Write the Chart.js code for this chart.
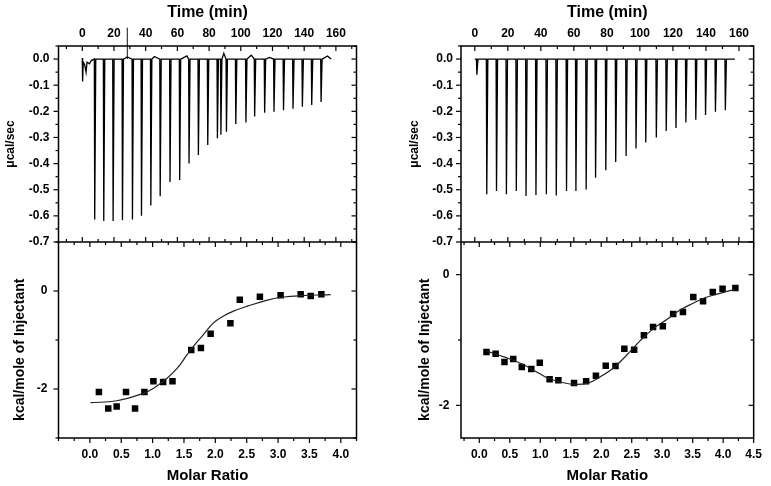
<!DOCTYPE html>
<html>
<head>
<meta charset="utf-8">
<script src="https://cdn.jsdelivr.net/npm/chart.js@4"></script>
<style>
  html, body { margin: 0; padding: 0; background: #fff; }
  #wrap { position: relative; width: 771px; height: 486px; }
  canvas { position: absolute; top: 0; }
  #leftChart { left: 0; }
  #rightChart { left: 400px; }
</style>
</head>
<body>
<div id="wrap">
  <canvas id="leftChart" width="400" height="486"></canvas>
  <canvas id="rightChart" width="371" height="486"></canvas>
</div>
<script>
// tick labels
const timeLabels = [0, 20, 40, 60, 80, 100, 120, 140, 160];
const rawLabels = [0, -0.1, -0.2, -0.3, -0.4, -0.5, -0.6, -0.7];
const leftRatioLabels = [0, 0.5, 1, 1.5, 2, 2.5, 3, 3.5, 4];
const rightRatioLabels = [0, 0.5, 1, 1.5, 2, 2.5, 3, 3.5, 4, 4.5];
const heatLabels = [0, -2];

// left: raw thermogram (injection time in min, peak in ucal/sec)
const leftInjTime = [7.6, 13.3, 19.2, 25.1, 31.4, 37.1, 43.0, 48.9, 55.1, 61.2, 67.1, 73.0, 78.9,
  85.0, 87.2, 90.7, 96.6, 103.0, 108.5, 114.8, 120.7, 126.7, 132.7, 138.6, 144.5, 150.4];
const leftInjPeak = [-0.614, -0.62, -0.62, -0.617, -0.614, -0.60, -0.56, -0.525, -0.47, -0.463, -0.40, -0.367, -0.329,
  -0.303, -0.29, -0.278, -0.248, -0.243, -0.22, -0.205, -0.202, -0.196, -0.19, -0.182, -0.176, -0.164];
const leftNoiseTime = [0, 0.2, 0.6, 1.5, 2.4, 3.0, 4.5, 5.8, 28.4, 45.5, 66.0, 89.3, 106.6, 118.0, 154.7, 157.0];
const leftNoiseVal = [0.004, -0.086, -0.012, -0.022, -0.05, -0.012, -0.018, -0.005, 0.008, 0.01, 0.012, 0.022, 0.015, 0.006, 0.012, 0];
const leftMarkerTime = [28.4, 28.4];
const leftMarkerVal = [0, 0.12];

// left: integrated heats (kcal/mole of injectant vs molar ratio)
const leftRatio = [0.144, 0.293, 0.427, 0.576, 0.72, 0.869, 1.013, 1.168, 1.317, 1.616, 1.77, 1.925,
  2.24, 2.39, 2.71, 3.04, 3.36, 3.52, 3.69];
const leftHeat = [-2.06, -2.40, -2.355, -2.06, -2.40, -2.06, -1.843, -1.857, -1.843, -1.205, -1.164, -0.87,
  -0.657, -0.178, -0.117, -0.089, -0.068, -0.103, -0.068];
const leftFitRatio = [0.01, 0.43, 0.85, 1.01, 1.23, 1.39, 1.55, 1.65, 1.81, 1.97, 2.13, 2.29, 2.51, 2.83, 3.09, 3.36, 3.84];
const leftFitHeat = [-2.28, -2.24, -2.09, -1.99, -1.78, -1.58, -1.30, -1.13, -0.89, -0.65, -0.51, -0.41, -0.31, -0.185, -0.123, -0.096, -0.075];

// right: raw thermogram
const rightInjTime = [1.0, 7.0, 12.9, 18.9, 24.9, 30.8, 36.8, 43.1, 49.1, 55.3, 61.0, 67.2, 72.9,
  79.1, 85.1, 91.4, 97.4, 103.3, 109.7, 115.7, 121.6, 127.6, 133.6, 139.5, 145.5, 151.5];
const rightInjPeak = [-0.06, -0.517, -0.505, -0.517, -0.505, -0.524, -0.52, -0.517, -0.522, -0.505, -0.505, -0.499, -0.454,
  -0.425, -0.394, -0.371, -0.342, -0.319, -0.30, -0.275, -0.264, -0.243, -0.232, -0.214, -0.202, -0.196];
const rightNoiseTime = [0, 157.5];
const rightNoiseVal = [0, 0];

// right: integrated heats
const rightRatio = [0.118, 0.268, 0.413, 0.557, 0.697, 0.853, 0.992, 1.153, 1.297, 1.554, 1.752, 1.913, 2.074,
  2.234, 2.379, 2.54, 2.70, 2.85, 3.01, 3.18, 3.34, 3.51, 3.67, 3.83, 3.99, 4.2];
const rightHeat = [-1.184, -1.209, -1.337, -1.291, -1.413, -1.444, -1.347, -1.602, -1.617, -1.658, -1.633, -1.546, -1.393,
  -1.398, -1.133, -1.148, -0.929, -0.801, -0.791, -0.602, -0.571, -0.342, -0.408, -0.265, -0.214, -0.204];
const rightFitRatio = [0.118, 0.44, 0.71, 0.98, 1.14, 1.36, 1.57, 1.78, 1.99, 2.21, 2.42, 2.64, 2.85, 3.07, 3.28, 3.5, 3.71, 3.93, 4.19];
const rightFitHeat = [-1.17, -1.27, -1.37, -1.51, -1.59, -1.65, -1.68, -1.66, -1.56, -1.42, -1.23, -1.01, -0.83, -0.69, -0.55, -0.44, -0.35, -0.29, -0.225];

const FONT = '"Liberation Sans", Arial, sans-serif';
// trailing spaces push the title a little lower on its axis, as in the original
const HEAT_TITLE = 'kcal/mole of Injectant' + '\u00a0'.repeat(5);

const hasValue = (arr, v) => arr.some(a => Math.abs(a - v) < 1e-9);
const onStep = (v, step) => Math.abs(v / step - Math.round(v / step)) < 1e-6;
const toXY = (xs, ys) => xs.map((x, i) => ({ x: x, y: ys[i] }));

// each injection drawn as a sharp dip down to its peak and back to the baseline
function thermogram(injT, injP, noiseT, noiseV) {
    const pts = toXY(noiseT, noiseV);
    injT.forEach((t, i) => {
        pts.push({ x: t, y: 0 }, { x: t + 0.25, y: injP[i] }, { x: t + 0.9, y: 0 });
    });
    return pts.sort((a, b) => a.x - b.x);
}

// frame and Origin-style ticks
const frameTicks = {
    id: 'frameTicks',
    afterDatasetsDraw(chart) {
        const { ctx, chartArea: a, scales } = chart;
        const { xTop, xBot, yTop, yBot } = scales;
        const mid = yTop.bottom;
        const steps = chart.options.plugins.frameTicks;
        ctx.save();
        ctx.strokeStyle = '#000';
        ctx.lineWidth = 1.2;
        const line = (x1, y1, x2, y2) => {
            ctx.beginPath(); ctx.moveTo(x1, y1); ctx.lineTo(x2, y2); ctx.stroke();
        };
        const each = (scale, step, fn) => scale.ticks.forEach(t => {
            if (!onStep(t.value, step)) return;
            const len = t.label !== '' ? 5 : 3;
            fn(scale.getPixelForValue(t.value), len);
        });
        each(yTop, steps.yTop, (p, len) => { line(a.left - len, p, a.left, p); line(a.right - len, p, a.right, p); });
        each(yBot, steps.yBot, (p, len) => { line(a.left - len, p, a.left, p); line(a.right - len, p, a.right, p); });
        each(xTop, steps.xTop, (p, len) => { line(p, a.top, p, a.top + len); line(p, mid - len, p, mid); });
        each(xBot, steps.xBot, (p, len) => { line(p, mid, p, mid + len); line(p, a.bottom, p, a.bottom + len); });
        ctx.lineWidth = 1.5;
        ctx.strokeRect(a.left, a.top, a.right - a.left, a.bottom - a.top);
        line(a.left, mid, a.right, mid);
        ctx.restore();
    }
};

function buildColumn(canvasId, cfg) {
    const box = cfg.box;
    const W = cfg.width, H = 486;
    const tickFont = { family: FONT, size: 12, weight: 'bold' };
    const baseAxis = {
        type: 'linear',
        grid: { display: false, drawTicks: false },
        border: { display: false }
    };
    return new Chart(document.getElementById(canvasId), {
        type: 'scatter',
        data: {
            datasets: [
                {
                    data: thermogram(cfg.injT, cfg.injP, cfg.noiseT, cfg.noiseV),
                    xAxisID: 'xTop', yAxisID: 'yTop',
                    showLine: true, borderColor: '#000', borderWidth: 1.3, pointRadius: 0, tension: 0
                },
                {
                    data: toXY(cfg.markerT, cfg.markerV),
                    xAxisID: 'xTop', yAxisID: 'yTop', clip: false,
                    showLine: true, borderColor: '#111', borderWidth: 1, pointRadius: 0
                },
                {
                    data: toXY(cfg.fitX, cfg.fitY),
                    xAxisID: 'xBot', yAxisID: 'yBot',
                    showLine: true, borderColor: '#222', borderWidth: 1.2, pointRadius: 0, tension: 0.4
                },
                {
                    data: toXY(cfg.ratio, cfg.heat),
                    xAxisID: 'xBot', yAxisID: 'yBot',
                    showLine: false, pointStyle: 'rect', pointRadius: 4.6,
                    backgroundColor: '#000', borderColor: '#000', borderWidth: 0
                }
            ]
        },
        options: {
            responsive: false,
            animation: false,
            layout: { padding: { left: 0, top: 0, bottom: 0, right: W - box.right } },
            plugins: {
                legend: { display: false },
                tooltip: { enabled: false },
                frameTicks: { xTop: 10, xBot: 0.25, yTop: 0.05, yBot: 1 }
            },
            scales: {
                xTop: Object.assign({}, baseAxis, {
                    position: 'top', min: cfg.timeMin, max: cfg.timeMax,
                    afterFit: s => { s.height = box.top; },
                    ticks: {
                        stepSize: 10, includeBounds: false, autoSkip: false, maxRotation: 0, padding: 5.5,
                        color: '#000', font: tickFont,
                        callback: v => hasValue(timeLabels, v) ? String(v) : ''
                    },
                    title: {
                        display: true, text: 'Time (min)', color: '#000',
                        font: { family: FONT, size: 16, weight: 'bold' },
                        padding: { top: 2.5, bottom: 0 }
                    }
                }),
                xBot: Object.assign({}, baseAxis, {
                    position: 'bottom', min: cfg.ratioMin, max: cfg.ratioMax,
                    afterFit: s => { s.height = H - box.bottom; },
                    ticks: {
                        stepSize: 0.25, includeBounds: false, autoSkip: false, maxRotation: 0, padding: 9,
                        color: '#000', font: tickFont,
                        callback: v => hasValue(cfg.ratioLabels, v) ? v.toFixed(1) : ''
                    },
                    title: {
                        display: true, text: 'Molar Ratio', color: '#000',
                        font: { family: FONT, size: 15, weight: 'bold' },
                        padding: { top: 0, bottom: 1.3 }
                    }
                }),
                yTop: Object.assign({}, baseAxis, {
                    position: 'left', stack: 'col', stackWeight: 1, weight: 2,
                    min: -0.7, max: 0.05,
                    afterFit: s => { s.width = box.left; },
                    ticks: {
                        stepSize: 0.05, includeBounds: false, autoSkip: false, padding: cfg.rawPad,
                        color: '#000', font: tickFont,
                        callback: v => hasValue(rawLabels, v) ? v.toFixed(1) : ''
                    },
                    title: {
                        display: true, text: 'μcal/sec', color: '#000',
                        font: { family: FONT, size: 12, weight: 'bold' },
                        padding: { top: cfg.rawTitle, bottom: 0 }
                    }
                }),
                yBot: Object.assign({}, baseAxis, {
                    position: 'left', stack: 'col', stackWeight: 1, weight: 1,
                    min: cfg.heatMin, max: cfg.heatMax,
                    afterFit: s => { s.width = box.left; },
                    ticks: {
                        stepSize: 0.5, includeBounds: false, autoSkip: false, padding: cfg.heatPad,
                        color: '#000', font: tickFont,
                        callback: v => hasValue(heatLabels, v) ? String(v) : ''
                    },
                    title: {
                        display: true, text: HEAT_TITLE, color: '#000',
                        font: { family: FONT, size: 14, weight: 'bold' },
                        padding: { top: cfg.heatTitle, bottom: 0 }
                    }
                })
            }
        },
        plugins: [frameTicks]
    });
}

buildColumn('leftChart', {
    width: 400,
    box: { left: 58.5, top: 46, right: 356.5, bottom: 438 },
    timeMin: -15, timeMax: 173,
    ratioMin: -0.5, ratioMax: 4.25, ratioLabels: leftRatioLabels,
    heatMin: -3, heatMax: 1,
    rawPad: 9, heatPad: 11, rawTitle: 3.8, heatTitle: 11.6,
    injT: leftInjTime, injP: leftInjPeak, noiseT: leftNoiseTime, noiseV: leftNoiseVal,
    markerT: leftMarkerTime, markerV: leftMarkerVal,
    ratio: leftRatio, heat: leftHeat, fitX: leftFitRatio, fitY: leftFitHeat
});

buildColumn('rightChart', {
    width: 371,
    box: { left: 61, top: 46, right: 358.5, bottom: 438 },
    timeMin: -8.35, timeMax: 168.9,
    ratioMin: -0.3, ratioMax: 4.5, ratioLabels: rightRatioLabels,
    heatMin: -2.5, heatMax: 0.5,
    rawPad: 8, heatPad: 11.5, rawTitle: 7.8, heatTitle: 16.6,
    injT: rightInjTime, injP: rightInjPeak, noiseT: rightNoiseTime, noiseV: rightNoiseVal,
    markerT: [], markerV: [],
    ratio: rightRatio, heat: rightHeat, fitX: rightFitRatio, fitY: rightFitHeat
});
</script>
</body>
</html>
